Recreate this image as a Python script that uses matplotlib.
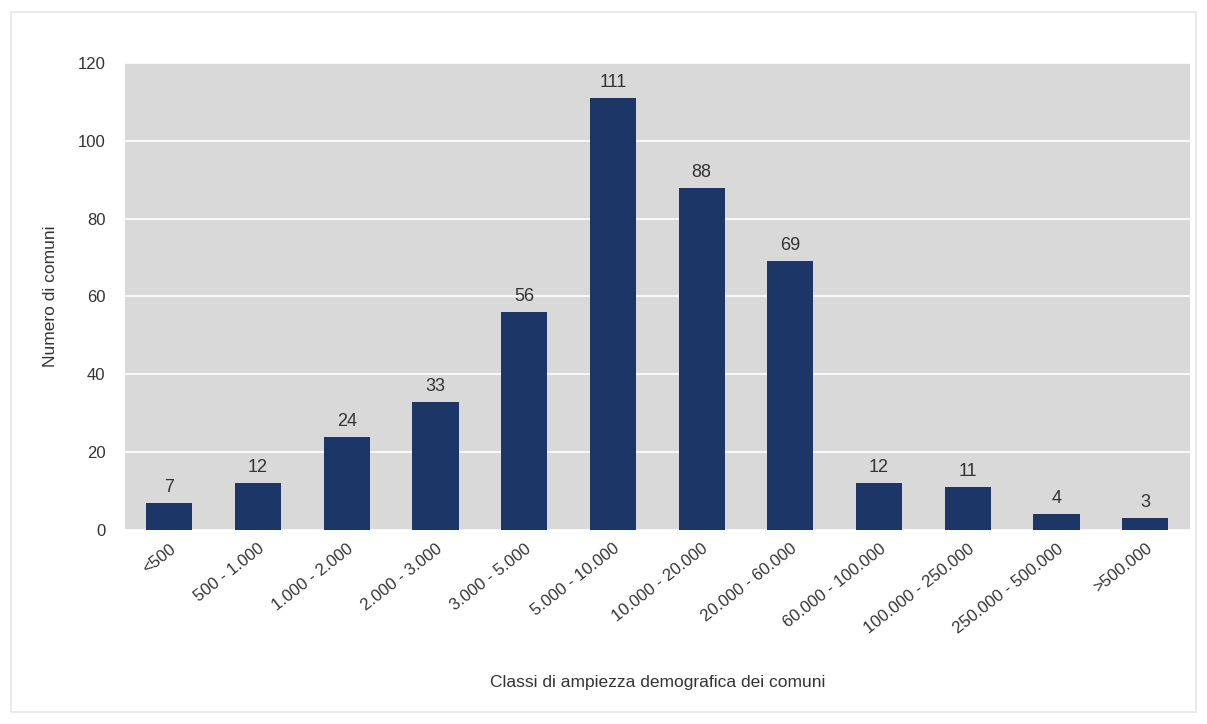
import numpy as np
import matplotlib
matplotlib.use('Agg')
import matplotlib.pyplot as plt
from matplotlib.patches import Rectangle

plt.rcParams['font.family'] = ['Liberation Sans', 'DejaVu Sans']

classi = ['<500', '500 - 1.000', '1.000 - 2.000', '2.000 - 3.000', '3.000 - 5.000',
          '5.000 - 10.000', '10.000 - 20.000', '20.000 - 60.000', '60.000 - 100.000',
          '100.000 - 250.000', '250.000 - 500.000', '>500.000']
comuni = [7, 12, 24, 33, 56, 111, 88, 69, 12, 11, 4, 3]

fig = plt.figure(figsize=(12.07, 7.24), dpi=100)
ax = fig.add_axes([0.1036, 0.268, 0.882, 0.645])

# light frame round the whole chart
fig.patches.append(Rectangle((0.009, 0.017), 0.982, 0.966, transform=fig.transFigure,
                             fill=False, edgecolor='#e6e6e6', linewidth=1.2))

x = np.arange(len(classi))
bars = ax.bar(x, comuni, width=0.52, color='#1c3668', zorder=3)
for b, v in zip(bars, comuni):
    ax.text(b.get_x() + b.get_width() / 2, v + 1.8, str(v), ha='center', va='bottom',
            fontsize=13, color='#333333')

ax.set_facecolor('#d9d9d9')
ax.set_xlim(-0.5, len(classi) - 0.5)
ax.set_ylim(0, 120)
ax.set_yticks(np.arange(0, 121, 20))
ax.grid(axis='y', color='white', linewidth=1.2, zorder=0)
ax.set_axisbelow(True)
for spine in ax.spines.values():
    spine.set_visible(False)
ax.tick_params(length=0, labelsize=12, labelcolor='#333333')
ax.tick_params(axis='y', pad=14)
ax.tick_params(axis='x', pad=8)
ax.set_xticks(x)
ax.set_xticklabels(classi, rotation=38, ha='right', rotation_mode='anchor')
ax.set_ylabel('Numero di comuni', fontsize=12.5, color='#333333', labelpad=14)
ax.set_xlabel('Classi di ampiezza demografica dei comuni', fontsize=12.5, color='#333333',
              labelpad=28)

plt.savefig('out.png', dpi=100)
